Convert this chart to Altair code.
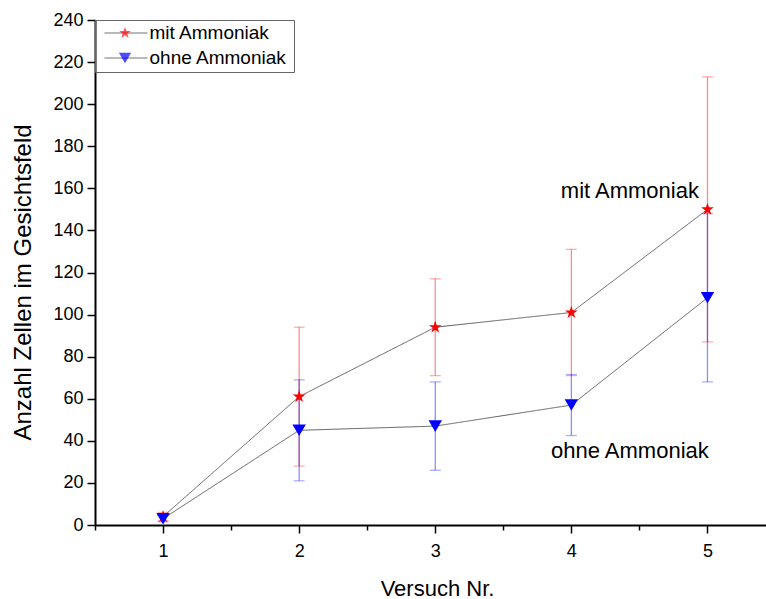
import altair as alt
import pandas as pd

# Measurements per trial (mean and standard deviation)
versuch = [1, 2, 3, 4, 5]
mit = [4, 61, 94, 101, 150]
mit_err = [2, 33, 23, 30, 63]
ohne = [3, 45, 47, 57, 108]
ohne_err = [1.5, 24, 21, 14.5, 40]

series = ["mit Ammoniak", "ohne Ammoniak"]
series_colors = ["#ff0000", "#0000ff"]
err_colors = ["rgba(255,0,0,0.45)", "rgba(0,0,255,0.45)"]

# In-plot labels next to the curves
anno_text = ["mit Ammoniak", "ohne Ammoniak"]
anno_x = [4.43, 4.43]
anno_y = [158.5, 35]

x_ticks = [0.5, 1, 1.5, 2, 2.5, 3, 3.5, 4, 4.5, 5]
y_ticks = list(range(0, 241, 10))

# five-pointed star as a custom symbol path
STAR = ("M0,-1L0.225,-0.309L0.951,-0.309L0.363,0.118L0.588,0.809L0,0.382"
        "L-0.588,0.809L-0.363,0.118L-0.951,-0.309L-0.225,-0.309Z")
# short horizontal stroke used as the line sample in the key
KEY_LINE = "M-4.3,0L4.3,0"

rows = []
for name, vals, errs, ec in [(series[0], mit, mit_err, err_colors[0]),
                             (series[1], ohne, ohne_err, err_colors[1])]:
    for v, m, e in zip(versuch, vals, errs):
        rows.append({"Versuch": v, "Serie": name, "Linie": name, "Wert": m,
                     "lo": m - e, "hi": m + e, "ecol": ec})
df = pd.DataFrame(rows)
anno = pd.DataFrame({"t": anno_text, "x": anno_x, "y": anno_y})

FONT = "Liberation Sans"
LINE_GREY = "#5f5f5f"

x_scale = alt.Scale(domain=[0.5, 5.43], nice=False, zero=False)
y_scale = alt.Scale(domain=[0, 240], nice=False)

x_axis = alt.Axis(
    title="Versuch Nr.", values=x_ticks,
    labelExpr="datum.value % 1 == 0 ? format(datum.value, 'd') : ''",
    tickSize={"condition": {"test": "datum.value % 1 == 0", "value": 8}, "value": 5},
    labelPadding=9, labelFontSize=18, titleFontSize=22,
    titleX=342, titleY=70, titleAlign="center", titleBaseline="alphabetic",
    labelOverlap=False, grid=False,
)
y_axis = alt.Axis(
    title="Anzahl Zellen im Gesichtsfeld", values=y_ticks,
    labelExpr="datum.value % 20 == 0 ? datum.label : ''",
    tickSize={"condition": {"test": "datum.value % 20 == 0", "value": 8}, "value": 5},
    labelPadding=4, labelFontSize=18, titleFontSize=24,
    titleX=-60, titleY=262, titleAngle=270, titleAlign="center", titleBaseline="bottom",
    labelOverlap=False, grid=False,
)

base = alt.Chart(df)

# connecting lines; their legend draws the framed key with a grey stroke per entry
lines = base.mark_line(color=LINE_GREY, strokeWidth=1).encode(
    x=alt.X("Versuch:Q", scale=x_scale, axis=x_axis),
    y=alt.Y("Wert:Q", scale=y_scale, axis=y_axis),
    strokeDash=alt.StrokeDash(
        "Linie:N", scale=alt.Scale(range=[[1, 0], [1, 0]]),
        legend=alt.Legend(
            orient="none", legendX=0, legendY=0, title=None,
            symbolType=KEY_LINE, symbolSize=100, symbolStrokeColor=LINE_GREY,
            symbolFillColor="transparent", symbolStrokeWidth=1, symbolOffset=18,
            strokeColor="#666666", padding=3.5,
            labelFontSize=19, labelFont=FONT, labelExpr="''", labelOffset=155,
            rowPadding=5, labelLimit=300,
        )),
)

err_rule = base.mark_rule(strokeWidth=1.3).encode(
    x="Versuch:Q",
    y="lo:Q",
    y2="hi:Q",
    color=alt.Color("ecol:N", scale=None),
)
err_cap_hi = base.mark_tick(orient="horizontal", size=11, thickness=1.3).encode(
    x="Versuch:Q", y="hi:Q", color=alt.Color("ecol:N", scale=None),
)
err_cap_lo = base.mark_tick(orient="horizontal", size=11, thickness=1.3).encode(
    x="Versuch:Q", y="lo:Q", color=alt.Color("ecol:N", scale=None),
)

points = base.mark_point(filled=True, opacity=1, size=180).encode(
    x="Versuch:Q",
    y="Wert:Q",
    color=alt.Color("Serie:N", scale=alt.Scale(domain=series, range=series_colors),
                    legend=alt.Legend(
                        orient="none", legendX=17, legendY=0, title=None,
                        padding=3.5, labelFontSize=19, labelFont=FONT,
                        symbolSize=150, rowPadding=5, labelOffset=15,
                        labelLimit=300,
                    )),
    shape=alt.Shape("Serie:N", scale=alt.Scale(domain=series, range=[STAR, "triangle-down"]),
                    legend=None),
)

labels = alt.Chart(anno).mark_text(fontSize=22, font=FONT, color="black").encode(
    x="x:Q", y="y:Q", text="t:N",
)

chart = alt.layer(lines, err_rule, err_cap_hi, err_cap_lo, points, labels).properties(
    width=671, height=505,
    padding={"left": 95, "top": 20, "right": 0, "bottom": 74},
    autosize=alt.AutoSizeParams(type="none"),
).configure_view(stroke=None).configure_axis(
    labelFont=FONT, titleFont=FONT, titleFontWeight="normal",
    labelColor="black", titleColor="black",
    domainColor="black", domainWidth=2, tickColor="black", tickWidth=1.5,
)

chart.save("out.html", embed_options={"renderer": "svg", "actions": False})
